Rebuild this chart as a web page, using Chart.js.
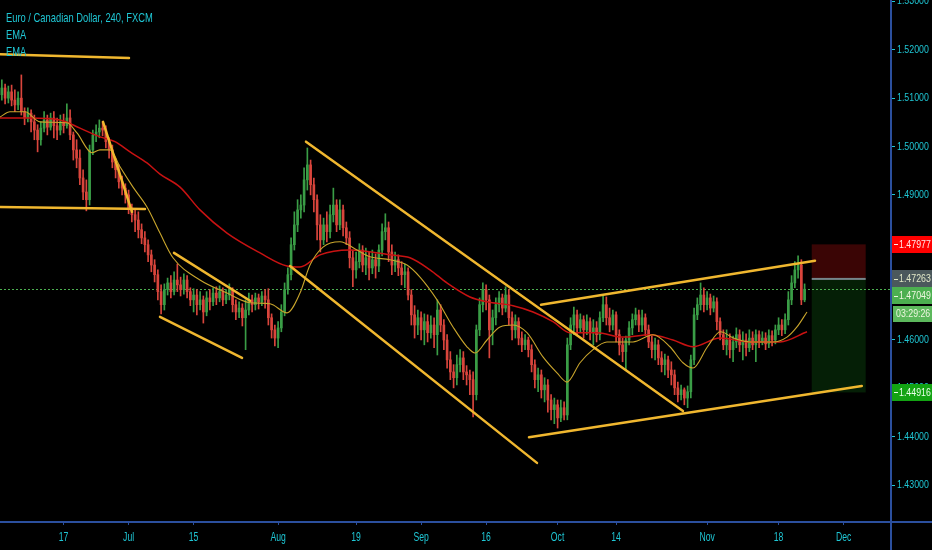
<!DOCTYPE html>
<html><head><meta charset="utf-8">
<script src="https://cdn.jsdelivr.net/npm/chart.js@4.4.1/dist/chart.umd.min.js"></script>
<style>html,body{margin:0;padding:0;background:#000;}#wrap{width:932px;height:550px;position:relative;}</style>
</head><body><div id="wrap"><canvas id="c" width="932" height="550"></canvas></div>
<script>
// ---------- data ----------
const chartTitle = 'Euro / Canadian Dollar, 240, FXCM';
const studyNames = ['EMA', 'EMA'];
const firstBarDay = -9.5;      // trading-day index of first bar (Jun 17 = 0)
const barStepDays = 0.5;

const openP = [
1.5107,1.5121,1.5100,1.5113,1.5096,1.5086,1.5100,1.5072,1.5059,1.5069,
1.5051,1.5034,1.5014,1.5038,1.5055,1.5040,1.5059,1.5043,1.5034,1.5051,
1.5043,1.5059,1.5024,1.4993,1.4976,1.4935,1.4906,1.4890,1.4993,1.5024,
1.5030,1.5038,1.5034,1.5010,1.4993,1.4968,1.4952,1.4927,1.4914,1.4900,
1.4873,1.4859,1.4848,1.4828,1.4811,1.4797,1.4776,1.4755,1.4735,1.4700,
1.4673,1.4704,1.4718,1.4700,1.4724,1.4714,1.4704,1.4724,1.4700,1.4683,
1.4693,1.4673,1.4683,1.4658,1.4687,1.4679,1.4697,1.4687,1.4700,1.4683,
1.4693,1.4704,1.4673,1.4658,1.4666,1.4646,1.4662,1.4683,1.4673,1.4687,
1.4679,1.4691,1.4683,1.4646,1.4621,1.4604,1.4625,1.4658,1.4704,1.4735,
1.4797,1.4838,1.4869,1.4879,1.4931,1.4962,1.4921,1.4890,1.4838,1.4807,
1.4838,1.4824,1.4859,1.4879,1.4838,1.4869,1.4832,1.4811,1.4770,1.4745,
1.4762,1.4786,1.4755,1.4770,1.4749,1.4766,1.4753,1.4786,1.4824,1.4832,
1.4782,1.4755,1.4766,1.4749,1.4735,1.4741,1.4693,1.4652,1.4631,1.4646,
1.4621,1.4638,1.4615,1.4631,1.4611,1.4662,1.4631,1.4600,1.4559,1.4534,
1.4522,1.4549,1.4563,1.4534,1.4528,1.4518,1.4487,1.4621,1.4673,1.4704,
1.4683,1.4621,1.4646,1.4673,1.4687,1.4666,1.4693,1.4646,1.4621,1.4638,
1.4604,1.4590,1.4600,1.4580,1.4549,1.4518,1.4528,1.4497,1.4507,1.4476,
1.4456,1.4466,1.4439,1.4460,1.4445,1.4590,1.4631,1.4652,1.4625,1.4642,
1.4621,1.4638,1.4617,1.4625,1.4611,1.4646,1.4673,1.4646,1.4631,1.4652,
1.4611,1.4590,1.4576,1.4600,1.4625,1.4642,1.4652,1.4631,1.4646,1.4621,
1.4596,1.4580,1.4590,1.4563,1.4549,1.4559,1.4538,1.4528,1.4501,1.4487,
1.4497,1.4480,1.4493,1.4559,1.4652,1.4673,1.4693,1.4673,1.4687,1.4666,
1.4679,1.4638,1.4611,1.4590,1.4600,1.4580,1.4596,1.4611,1.4590,1.4600,
1.4584,1.4604,1.4590,1.4611,1.4596,1.4604,1.4592,1.4609,1.4600,1.4621,
1.4631,1.4621,1.4642,1.4683,1.4718,1.4745,1.4755,1.4683];

const highP = [
1.5138,1.5129,1.5125,1.5127,1.5117,1.5113,1.5148,1.5080,1.5080,1.5076,
1.5065,1.5045,1.5051,1.5072,1.5065,1.5069,1.5072,1.5059,1.5065,1.5067,
1.5088,1.5076,1.5030,1.5014,1.4993,1.4952,1.4931,1.5003,1.5034,1.5045,
1.5055,1.5051,1.5043,1.5018,1.5003,1.4976,1.4962,1.4939,1.4923,1.4910,
1.4881,1.4869,1.4865,1.4840,1.4824,1.4807,1.4786,1.4766,1.4745,1.4714,
1.4716,1.4728,1.4733,1.4741,1.4757,1.4730,1.4737,1.4733,1.4708,1.4706,
1.4704,1.4700,1.4691,1.4700,1.4704,1.4708,1.4710,1.4712,1.4708,1.4704,
1.4716,1.4708,1.4683,1.4679,1.4675,1.4683,1.4697,1.4693,1.4697,1.4695,
1.4700,1.4704,1.4706,1.4654,1.4631,1.4638,1.4673,1.4718,1.4749,1.4811,
1.4865,1.4890,1.4900,1.4956,1.4997,1.4972,1.4935,1.4900,1.4859,1.4852,
1.4865,1.4879,1.4914,1.4890,1.4890,1.4879,1.4844,1.4824,1.4786,1.4782,
1.4799,1.4795,1.4790,1.4782,1.4786,1.4778,1.4797,1.4840,1.4861,1.4844,
1.4797,1.4782,1.4776,1.4762,1.4757,1.4749,1.4704,1.4671,1.4662,1.4658,
1.4654,1.4652,1.4650,1.4646,1.4683,1.4673,1.4642,1.4611,1.4576,1.4549,
1.4569,1.4580,1.4576,1.4547,1.4538,1.4534,1.4631,1.4687,1.4718,1.4714,
1.4693,1.4662,1.4687,1.4700,1.4695,1.4710,1.4704,1.4658,1.4652,1.4646,
1.4617,1.4611,1.4606,1.4590,1.4559,1.4542,1.4538,1.4522,1.4518,1.4487,
1.4480,1.4476,1.4476,1.4472,1.4604,1.4646,1.4668,1.4662,1.4654,1.4650,
1.4652,1.4646,1.4642,1.4638,1.4658,1.4691,1.4689,1.4666,1.4662,1.4658,
1.4621,1.4604,1.4608,1.4638,1.4654,1.4666,1.4662,1.4662,1.4654,1.4631,
1.4608,1.4604,1.4600,1.4576,1.4571,1.4567,1.4555,1.4538,1.4513,1.4507,
1.4501,1.4505,1.4569,1.4666,1.4687,1.4718,1.4708,1.4700,1.4695,1.4691,
1.4687,1.4646,1.4621,1.4621,1.4613,1.4608,1.4625,1.4621,1.4617,1.4613,
1.4621,1.4617,1.4621,1.4619,1.4617,1.4615,1.4621,1.4619,1.4631,1.4646,
1.4642,1.4654,1.4700,1.4733,1.4762,1.4774,1.4766,1.4716];

const lowP = [
1.5096,1.5088,1.5090,1.5084,1.5072,1.5076,1.5065,1.5045,1.5051,1.5030,
1.5014,1.4989,1.5003,1.5030,1.5024,1.5034,1.5018,1.5014,1.5024,1.5028,
1.5038,1.5014,1.4972,1.4956,1.4921,1.4890,1.4867,1.4879,1.4983,1.5010,
1.5018,1.5022,1.4997,1.4976,1.4956,1.4935,1.4914,1.4900,1.4883,1.4861,
1.4844,1.4824,1.4811,1.4799,1.4782,1.4762,1.4741,1.4720,1.4683,1.4654,
1.4662,1.4693,1.4687,1.4693,1.4700,1.4691,1.4695,1.4687,1.4671,1.4658,
1.4652,1.4662,1.4635,1.4650,1.4662,1.4671,1.4673,1.4679,1.4671,1.4675,
1.4683,1.4658,1.4642,1.4646,1.4629,1.4580,1.4652,1.4658,1.4662,1.4664,
1.4671,1.4666,1.4631,1.4604,1.4588,1.4584,1.4617,1.4650,1.4695,1.4724,
1.4786,1.4824,1.4852,1.4865,1.4910,1.4900,1.4865,1.4807,1.4782,1.4797,
1.4803,1.4811,1.4844,1.4824,1.4828,1.4815,1.4797,1.4749,1.4710,1.4728,
1.4749,1.4741,1.4735,1.4724,1.4737,1.4728,1.4741,1.4774,1.4807,1.4762,
1.4735,1.4741,1.4733,1.4714,1.4708,1.4683,1.4631,1.4604,1.4611,1.4600,
1.4590,1.4596,1.4604,1.4584,1.4569,1.4617,1.4580,1.4542,1.4518,1.4501,
1.4507,1.4534,1.4518,1.4507,1.4487,1.4441,1.4476,1.4609,1.4658,1.4662,
1.4563,1.4590,1.4631,1.4658,1.4652,1.4658,1.4631,1.4600,1.4604,1.4590,
1.4576,1.4580,1.4565,1.4534,1.4501,1.4493,1.4480,1.4472,1.4451,1.4435,
1.4427,1.4418,1.4431,1.4435,1.4435,1.4580,1.4611,1.4611,1.4617,1.4604,
1.4611,1.4600,1.4590,1.4596,1.4600,1.4638,1.4631,1.4617,1.4621,1.4596,
1.4569,1.4555,1.4538,1.4590,1.4611,1.4631,1.4617,1.4617,1.4609,1.4584,
1.4563,1.4559,1.4549,1.4534,1.4528,1.4522,1.4507,1.4487,1.4472,1.4476,
1.4466,1.4460,1.4480,1.4549,1.4642,1.4662,1.4658,1.4662,1.4652,1.4658,
1.4621,1.4600,1.4580,1.4569,1.4563,1.4555,1.4584,1.4576,1.4559,1.4567,
1.4576,1.4580,1.4555,1.4584,1.4590,1.4580,1.4584,1.4588,1.4592,1.4611,
1.4609,1.4613,1.4631,1.4673,1.4708,1.4728,1.4673,1.4679];

const closeP = [
1.5121,1.5100,1.5113,1.5096,1.5086,1.5100,1.5072,1.5059,1.5069,1.5051,
1.5034,1.5014,1.5038,1.5055,1.5040,1.5059,1.5043,1.5034,1.5051,1.5043,
1.5059,1.5024,1.4993,1.4976,1.4935,1.4906,1.4890,1.4993,1.5024,1.5030,
1.5038,1.5034,1.5010,1.4993,1.4968,1.4952,1.4927,1.4914,1.4900,1.4873,
1.4859,1.4848,1.4828,1.4811,1.4797,1.4776,1.4755,1.4735,1.4700,1.4673,
1.4704,1.4718,1.4700,1.4724,1.4714,1.4704,1.4724,1.4700,1.4683,1.4693,
1.4673,1.4683,1.4658,1.4687,1.4679,1.4697,1.4687,1.4700,1.4683,1.4693,
1.4704,1.4673,1.4658,1.4666,1.4646,1.4662,1.4683,1.4673,1.4687,1.4679,
1.4691,1.4683,1.4646,1.4621,1.4604,1.4625,1.4658,1.4704,1.4735,1.4797,
1.4838,1.4869,1.4879,1.4931,1.4962,1.4921,1.4890,1.4838,1.4807,1.4838,
1.4824,1.4859,1.4879,1.4838,1.4869,1.4832,1.4811,1.4770,1.4745,1.4762,
1.4786,1.4755,1.4770,1.4749,1.4766,1.4753,1.4786,1.4824,1.4832,1.4782,
1.4755,1.4766,1.4749,1.4735,1.4741,1.4693,1.4652,1.4631,1.4646,1.4621,
1.4638,1.4615,1.4631,1.4611,1.4662,1.4631,1.4600,1.4559,1.4534,1.4522,
1.4549,1.4563,1.4534,1.4528,1.4518,1.4487,1.4621,1.4673,1.4704,1.4683,
1.4621,1.4646,1.4673,1.4687,1.4666,1.4693,1.4646,1.4621,1.4638,1.4604,
1.4590,1.4600,1.4580,1.4549,1.4518,1.4528,1.4497,1.4507,1.4476,1.4456,
1.4466,1.4439,1.4460,1.4445,1.4590,1.4631,1.4652,1.4625,1.4642,1.4621,
1.4638,1.4617,1.4625,1.4611,1.4646,1.4673,1.4646,1.4631,1.4652,1.4611,
1.4590,1.4576,1.4600,1.4625,1.4642,1.4652,1.4631,1.4646,1.4621,1.4596,
1.4580,1.4590,1.4563,1.4549,1.4559,1.4538,1.4528,1.4501,1.4487,1.4497,
1.4480,1.4493,1.4559,1.4652,1.4673,1.4693,1.4673,1.4687,1.4666,1.4679,
1.4638,1.4611,1.4590,1.4600,1.4580,1.4596,1.4611,1.4590,1.4600,1.4584,
1.4604,1.4590,1.4611,1.4596,1.4604,1.4592,1.4609,1.4600,1.4621,1.4631,
1.4621,1.4642,1.4683,1.4718,1.4745,1.4755,1.4683,1.4705];

// EMA readings (trading-day index, price)
const emaFastDays = [-9.78,-8.25,-5.94,-3.63,0.52,2.06,4.37,5.6,7.14,8.68,
 10.68,12.83,14.83,16.83,20.98,25.14,28.68,31.75,34.37,36.37,
 37.91,39.91,42.52,45.14,47.14,50.22,52.83,54.83,57.45,59.91,
 62.06,63.29,65.14,67.14,69.14,71.29,73.75,75.91,77.45,79.45,
 81.45,83.6,85.6,87.6,90.68,93.29,95.29,96.83,99.06,101.06,
 103.06,105.6,109.14,111.29,112.83,114.37];
const emaFast = [1.5061,1.5072,1.5072,1.5051,1.5049,1.5028,1.4987,1.4993,1.4993,1.4958,
 1.4916,1.4875,1.4821,1.4770,1.4724,1.4697,1.4677,1.4675,1.4656,1.4697,
 1.4755,1.4792,1.4803,1.4786,1.4772,1.4766,1.4755,1.4730,1.4683,1.4627,
 1.4586,1.4573,1.4600,1.4627,1.4631,1.4615,1.4565,1.4532,1.4513,1.4553,
 1.4580,1.4596,1.4596,1.4596,1.4611,1.4586,1.4553,1.4542,1.4586,1.4617,
 1.4604,1.4596,1.4596,1.4606,1.4627,1.4658];
const emaSlowDays = [-9.78,-5.17,-0.55,2.52,5.6,7.91,10.22,12.83,14.83,17.91,
 20.98,25.14,30.22,34.37,36.37,39.45,44.06,50.22,53.29,56.37,
 58.98,62.52,65.14,69.14,72.22,75.29,77.91,82.06,86.06,90.22,
 93.75,96.83,100.98,105.6,110.22,114.37];
const emaSlow = [1.5059,1.5059,1.5055,1.5038,1.5020,1.5010,1.4989,1.4966,1.4943,1.4916,
 1.4869,1.4821,1.4780,1.4753,1.4751,1.4776,1.4786,1.4776,1.4770,1.4745,
 1.4718,1.4689,1.4679,1.4671,1.4658,1.4638,1.4615,1.4615,1.4606,1.4611,
 1.4600,1.4586,1.4604,1.4596,1.4596,1.4617];

// hand-drawn trend lines: [startDay, startPrice, endDay, endPrice]
const trendLines = [
 [-9.78, 1.5191, 10.06, 1.5183],
 [-9.78, 1.4875, 12.52, 1.4871],
 [6.06, 1.5051, 10.52, 1.4865],
 [16.98, 1.4780, 28.68, 1.4681],
 [14.83, 1.4648, 27.45, 1.4563],
 [37.29, 1.5010, 95.29, 1.4453],
 [34.83, 1.4753, 72.83, 1.4346],
 [73.45, 1.4673, 115.6, 1.4764],
 [71.6, 1.4399, 122.8, 1.4505]
];

const tickDays = [0, 10, 20, 33, 45, 55, 65, 76, 85, 99, 110, 120];
const tickLabels = ['17', 'Jul', '15', 'Aug', '19', 'Sep', '16', 'Oct', '14', 'Nov', '18', 'Dec'];

const lastPrice = 1.47049;
const stopPrice = 1.47977;
const entryPrice = 1.47263;
const targetPrice = 1.44916;
const countdown = '03:29:26';
const positionDays = [115.1, 123.4];

// ---------- styling ----------
const FONT = "'Liberation Sans', Arial, sans-serif";
const CYAN = '#1fc6d4';
const AXIS = '#2b4f9e';
const UP = '#3a9d46', DOWN = '#d9453c';
const TL = '#f0b72f';

const barDay = i => firstBarDay + i * barStepDays;
const candleColor = c => closeP[c.dataIndex] >= openP[c.dataIndex] ? UP : DOWN;

const wickData = highP.map((h, i) => ({x: barDay(i), y: [lowP[i], h]}));
const bodyData = openP.map((o, i) => ({x: barDay(i), y: [o, closeP[i]]}));

const datasets = [];
trendLines.forEach(t => datasets.push({
  type: 'line', data: [{x: t[0], y: t[1]}, {x: t[2], y: t[3]}],
  borderColor: TL, borderWidth: 2.5, pointRadius: 0, order: 0, borderCapStyle: 'round'
}));
datasets.push({type: 'line', data: emaFastDays.map((d, i) => ({x: d, y: emaFast[i]})),
  borderColor: '#c9a52c', borderWidth: 1.1, pointRadius: 0, cubicInterpolationMode: 'monotone', order: 1});
datasets.push({type: 'line', data: emaSlowDays.map((d, i) => ({x: d, y: emaSlow[i]})),
  borderColor: '#c81212', borderWidth: 1.5, pointRadius: 0, cubicInterpolationMode: 'monotone', order: 2});
datasets.push({type: 'bar', data: wickData, backgroundColor: candleColor, barThickness: 1,
  grouped: false, borderWidth: 0, order: 4});
datasets.push({type: 'bar', data: bodyData, backgroundColor: candleColor, barThickness: 2,
  grouped: false, borderWidth: 0, order: 3});

// draw text compressed horizontally (condensed look, no narrow font installed)
function narrowText(ctx, text, x, y, sx) {
  ctx.save();
  ctx.translate(x, y);
  ctx.scale(sx, 1);
  ctx.fillText(text, 0, 0);
  ctx.restore();
}

// make the library's own tick labels condensed
function condenseLabels(scale, sx) {
  if (scale._condensed) return;
  scale._condensed = true;
  const orig = scale.drawLabels;
  scale.drawLabels = function (area) {
    const ctx = this.ctx;
    const fill = ctx.fillText;
    ctx.fillText = function (t, x, y) {
      this.save(); this.scale(sx, 1); fill.call(this, t, x / sx, y); this.restore();
    };
    try { orig.call(this, area); } finally { delete ctx.fillText; }
  };
}

function priceTag(ctx, left, yc, text, bg, fg) {
  ctx.fillStyle = bg;
  ctx.fillRect(left, Math.round(yc - 8.5), 932 - left, 17);
  ctx.fillStyle = fg;
  ctx.fillRect(left + 2, Math.round(yc), 4, 1);
  ctx.font = '11px ' + FONT;
  ctx.textBaseline = 'middle';
  ctx.textAlign = 'left';
  narrowText(ctx, text, left + 7, yc + 0.5, 0.8);
}

const overlay = {
  id: 'overlay',
  beforeDraw(chart) {
    condenseLabels(chart.scales.x, 0.72);
    condenseLabels(chart.scales.y, 0.8);
  },
  beforeDatasetsDraw(chart) {
    const {ctx, chartArea: a, scales: {x, y}} = chart;
    const x0 = x.getPixelForValue(positionDays[0]), x1 = x.getPixelForValue(positionDays[1]);
    const ys = y.getPixelForValue(stopPrice), ye = y.getPixelForValue(entryPrice), yt = y.getPixelForValue(targetPrice);
    ctx.save();
    ctx.fillStyle = '#3a0505';
    ctx.fillRect(x0, ys, x1 - x0, ye - ys);
    ctx.fillStyle = '#051f06';
    ctx.fillRect(x0, ye, x1 - x0, yt - ye);
    ctx.fillStyle = '#76868b';
    ctx.fillRect(x0, ye - 1, x1 - x0, 2);
    const yl = Math.round(y.getPixelForValue(lastPrice)) + 0.5;
    ctx.strokeStyle = '#4caf50';
    ctx.lineWidth = 1;
    ctx.setLineDash([2, 2]);
    ctx.beginPath(); ctx.moveTo(a.left, yl); ctx.lineTo(a.right, yl); ctx.stroke();
    ctx.restore();
  },
  afterDraw(chart) {
    const {ctx, chartArea: a, scales: {y}} = chart;
    ctx.save();
    ctx.fillStyle = AXIS;
    ctx.fillRect(Math.round(a.right), 0, 2, 550);
    ctx.fillRect(0, Math.round(a.bottom), 932, 2);
    const left = Math.round(a.right) + 2;
    const ySt = y.getPixelForValue(stopPrice);
    const yEn = y.getPixelForValue(entryPrice);
    const yLa = Math.max(y.getPixelForValue(lastPrice), yEn + 17);
    const yTg = y.getPixelForValue(targetPrice);
    priceTag(ctx, left, ySt, stopPrice.toFixed(5), '#ff0000', '#ffe9e9');
    priceTag(ctx, left, yEn, entryPrice.toFixed(5), '#4b585c', '#e2e8c8');
    priceTag(ctx, left, yLa, lastPrice.toFixed(5), '#4caf50', '#eef7e0');
    ctx.fillStyle = '#5cb85c';
    ctx.fillRect(left + 1, Math.round(yLa + 10), 932 - left - 1, 16);
    ctx.fillStyle = '#eef7e0';
    ctx.font = '11px ' + FONT;
    ctx.textBaseline = 'middle';
    narrowText(ctx, countdown, left + 4, yLa + 18.5, 0.8);
    priceTag(ctx, left, yTg, targetPrice.toFixed(5), '#13a313', '#eaffea');
    ctx.fillStyle = CYAN;
    ctx.font = '13px ' + FONT;
    ctx.textBaseline = 'alphabetic';
    narrowText(ctx, chartTitle, 6, 22, 0.72);
    narrowText(ctx, studyNames[0], 6, 39, 0.72);
    narrowText(ctx, studyNames[1], 6, 56, 0.72);
    ctx.restore();
  }
};

new Chart(document.getElementById('c'), {
  type: 'bar',
  data: {datasets},
  plugins: [overlay],
  options: {
    responsive: false, animation: false, devicePixelRatio: 1,
    layout: {padding: 0},
    plugins: {legend: {display: false}, tooltip: {enabled: false}},
    scales: {
      x: {
        type: 'linear', position: 'bottom', min: -9.785, max: 127.14, offset: false,
        afterBuildTicks: s => { s.ticks = tickDays.map(v => ({value: v})); },
        afterFit: s => { s.height = 29; s.paddingLeft = 0; s.paddingRight = 0; },
        grid: {drawOnChartArea: false, drawTicks: true, tickLength: 4, color: AXIS, offset: false},
        border: {display: true, color: AXIS},
        ticks: {color: CYAN, font: {family: FONT, size: 12}, padding: 5, maxRotation: 0, autoSkip: false,
          callback: v => { const k = tickDays.indexOf(v); return k >= 0 ? tickLabels[k] : ''; }}
      },
      y: {
        type: 'linear', position: 'right', min: 1.42258, max: 1.53029,
        afterFit: s => { s.width = 42; s.paddingTop = 0; s.paddingBottom = 0; },
        grid: {drawOnChartArea: false, drawTicks: true, tickLength: 5, color: CYAN, offset: false},
        border: {display: true, color: AXIS},
        ticks: {color: CYAN, font: {family: FONT, size: 11}, padding: 2, stepSize: 0.01, includeBounds: false,
          callback: v => v.toFixed(5)}
      }
    }
  }
});
</script></body></html>
